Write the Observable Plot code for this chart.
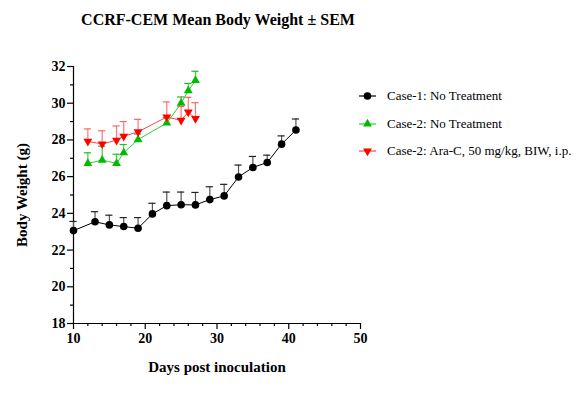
<!DOCTYPE html>
<html><head><meta charset="utf-8">
<script src="https://cdn.jsdelivr.net/npm/d3@7"></script>
<script src="https://cdn.jsdelivr.net/npm/@observablehq/plot@0.6"></script>
<style>
body{margin:0;background:#fff;font-family:"Liberation Serif","Times New Roman",serif;}
#wrap{position:relative;width:582px;height:403px;overflow:hidden;}
#title{position:absolute;left:73px;width:290px;top:0;height:40px;line-height:40px;text-align:center;font-weight:bold;font-size:16px;white-space:nowrap;color:#000;}
#chart{position:absolute;left:0;top:40px;}
#legend{position:absolute;left:358px;top:0;font-size:13px;color:#000;}
.item{position:absolute;left:0;height:20px;display:flex;align-items:center;white-space:nowrap;}
.item svg{margin-right:11px;}
</style></head>
<body>
<div id="wrap">
  <div id="title">CCRF-CEM Mean Body Weight ± SEM</div>
  <div id="chart"></div>
  <div id="legend"></div>
</div>
<script>
// ---- data ----
const seriesNames = ["Case-1: No Treatment", "Case-2: No Treatment", "Case-2: Ara-C, 50 mg/kg, BIW, i.p."];

const days1 = [10, 13, 15, 17, 19, 21, 23, 25, 27, 29, 31, 33, 35, 37, 39, 41];
const mean1 = [23.06, 23.54, 23.37, 23.28, 23.19, 23.97, 24.42, 24.47, 24.46, 24.75, 24.95, 25.98, 26.50, 26.77, 27.77, 28.54];
const sem1  = [0.50, 0.55, 0.53, 0.49, 0.58, 0.58, 0.74, 0.69, 0.68, 0.70, 0.63, 0.65, 0.60, 0.40, 0.45, 0.60];

const days2 = [12, 14, 16, 17, 19, 23, 25, 26, 27];
const mean2 = [26.72, 26.90, 26.72, 27.30, 28.02, 28.92, 30.00, 30.68, 31.24];
const sem2  = [0.58, 0.76, 0.50, 0.45, 0.30, 0.30, 0.34, 0.40, 0.50];

const days3 = [12, 14, 16, 17, 19, 23, 25, 26, 27];
const mean3 = [27.92, 27.78, 27.98, 28.20, 28.44, 29.25, 29.07, 29.52, 29.16];
const sem3  = [0.68, 0.72, 0.78, 0.80, 0.68, 0.82, 0.75, 0.80, 0.87];

const xMajor = [10, 20, 30, 40, 50];
const xMinor = [12, 14, 16, 18, 22, 24, 26, 28, 32, 34, 36, 38, 42, 44, 46, 48];
const yMajor = [18, 20, 22, 24, 26, 28, 30, 32];
const yMinor = [19, 21, 23, 25, 27, 29, 31];

// ---- symbols ----
const sqrt3 = Math.sqrt(3);
const triangleDown = {
  draw(ctx, size) {
    const y = -Math.sqrt(size / (sqrt3 * 3));
    ctx.moveTo(0, -y * 2);
    ctx.lineTo(-sqrt3 * y, y);
    ctx.lineTo(sqrt3 * y, y);
    ctx.closePath();
  }
};

const styles = [
  {line: "#000000", bar: "#555555", cap: "#222222", fill: "#000000", symbol: "circle", r: 3.8},
  {line: "#33cc33", bar: "#44cc44", cap: "#22bb22", fill: "#00bb00", symbol: "triangle", r: 3.3},
  {line: "#ff4444", bar: "#ff7777", cap: "#ff6666", fill: "#ff0000", symbol: triangleDown, r: 3.3}
];

const raw = [[days1, mean1, sem1], [days2, mean2, sem2], [days3, mean3, sem3]];
const series = raw.map(([d, m, s], k) => d.map((day, i) => ({series: seriesNames[k], day, mean: m[i], top: m[i] + s[i]})));

const marks = [];
series.forEach((rows, k) => {
  const st = styles[k];
  marks.push(Plot.line(rows, {x: "day", y: "mean", stroke: st.line, strokeWidth: 1}));
  marks.push(Plot.ruleX(rows, {x: "day", y1: "mean", y2: "top", stroke: st.bar, strokeWidth: 1.2}));
  marks.push(Plot.ruleY(rows, {y: "top", x1: d => d.day - 0.5, x2: d => d.day + 0.5, stroke: st.cap, strokeWidth: 1.2}));
  marks.push(Plot.dot(rows, {x: "day", y: "mean", symbol: () => st.symbol, r: st.r, fill: st.fill, stroke: "none"}));
});

const chart = Plot.plot({
  width: 582, height: 363,
  marginLeft: 73, marginRight: 222, marginTop: 26, marginBottom: 80,
  x: {domain: [10, 50]},
  y: {domain: [18, 32]},
  symbol: {type: "identity"},
  style: {fontFamily: "'Liberation Serif', 'Times New Roman', serif", fontSize: "14px", fontWeight: "bold", color: "#000", background: "transparent", overflow: "visible"},
  marks: [
    Plot.axisX({ticks: xMajor, tickSize: 6, tickPadding: 4, tickFormat: d => String(d), label: null, strokeWidth: 1.2}),
    Plot.axisX({ticks: xMinor, tickSize: 3, tickFormat: () => "", label: null, strokeWidth: 1.2}),
    Plot.axisY({ticks: yMajor, tickSize: 6, tickPadding: 2, tickFormat: d => String(d), label: null, strokeWidth: 1.2}),
    Plot.axisY({ticks: yMinor, tickSize: 3, tickFormat: () => "", label: null, strokeWidth: 1.2}),
    Plot.ruleY([18], {stroke: "#000", strokeWidth: 1.2}),
    Plot.ruleX([10], {stroke: "#000", strokeWidth: 1.2}),
    Plot.text(["Days post inoculation"], {frameAnchor: "bottom", dy: 44, lineAnchor: "middle", fontSize: 15, fontWeight: "bold", fill: "#000"}),
    Plot.text(["Body Weight (g)"], {frameAnchor: "left", dx: -51, rotate: -90, textAnchor: "middle", lineAnchor: "middle", fontSize: 15, fontWeight: "bold", fill: "#000"}),
    ...marks
  ]
});
document.getElementById("chart").appendChild(chart);

// ---- legend ----
const legendY = [96, 123.5, 151];
const legend = document.getElementById("legend");
seriesNames.forEach((name, k) => {
  const st = styles[k];
  const item = document.createElement("div");
  item.className = "item";
  item.style.top = (legendY[k] - 10) + "px";
  const ns = "http://www.w3.org/2000/svg";
  const svg = document.createElementNS(ns, "svg");
  svg.setAttribute("width", 18); svg.setAttribute("height", 12);
  const ln = document.createElementNS(ns, "line");
  ln.setAttribute("x1", 1); ln.setAttribute("x2", 18); ln.setAttribute("y1", 6); ln.setAttribute("y2", 6);
  ln.setAttribute("stroke", st.line); ln.setAttribute("stroke-width", 1.2);
  svg.appendChild(ln);
  const p = document.createElementNS(ns, "path");
  const sym = typeof st.symbol === "string" ? (st.symbol === "circle" ? d3.symbolCircle : d3.symbolTriangle) : st.symbol;
  p.setAttribute("d", d3.symbol(sym, Math.PI * st.r * st.r)());
  p.setAttribute("transform", "translate(9.5,6)");
  p.setAttribute("fill", st.fill);
  svg.appendChild(p);
  item.appendChild(svg);
  const t = document.createElement("span");
  t.textContent = name;
  item.appendChild(t);
  legend.appendChild(item);
});
</script>
</body></html>
